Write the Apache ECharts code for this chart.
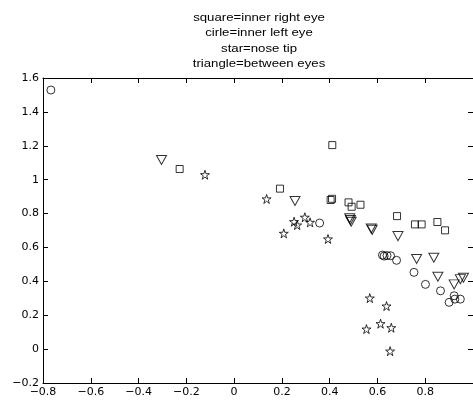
<!DOCTYPE html>
<html>
<head>
<meta charset="utf-8">
<script src="https://cdn.jsdelivr.net/npm/echarts@6/dist/echarts.min.js"></script>
<style>html,body{margin:0;padding:0;background:#fff}#c{width:473px;height:401px}</style>
</head>
<body>
<div id="c"></div>
<script>
// Data
const titleLines = ['square=inner right eye', 'cirle=inner left eye', 'star=nose tip', 'triangle=between eyes'];
const xTicks = [-0.8, -0.6, -0.4, -0.2, 0, 0.2, 0.4, 0.6, 0.8, 1.0];
const yTicks = [-0.2, 0, 0.2, 0.4, 0.6, 0.8, 1.0, 1.2, 1.4, 1.6];

const squareX = [-0.228, 0.411, 0.192, 0.404, 0.410, 0.479, 0.492, 0.529, 0.682, 0.757, 0.785, 0.851, 0.883];
const squareY = [1.063, 1.204, 0.947, 0.880, 0.887, 0.866, 0.840, 0.852, 0.785, 0.736, 0.736, 0.750, 0.701];

const circleX = [-0.767, 0.358, 0.621, 0.628, 0.640, 0.655, 0.680, 0.753, 0.801, 0.864, 0.900, 0.921, 0.924, 0.947];
const circleY = [1.529, 0.744, 0.555, 0.549, 0.552, 0.551, 0.524, 0.453, 0.382, 0.344, 0.276, 0.315, 0.295, 0.295];

const starX = [-0.122, 0.136, 0.208, 0.251, 0.264, 0.296, 0.318, 0.393, 0.568, 0.638, 0.554, 0.613, 0.658, 0.653];
const starY = [1.029, 0.886, 0.683, 0.752, 0.732, 0.778, 0.748, 0.650, 0.301, 0.254, 0.118, 0.150, 0.126, -0.012];

const triX = [-0.304, 0.255, 0.484, 0.487, 0.490, 0.574, 0.578, 0.686, 0.764, 0.836, 0.853, 0.921, 0.947, 0.960];
const triY = [1.116, 0.874, 0.772, 0.762, 0.752, 0.712, 0.704, 0.667, 0.532, 0.539, 0.427, 0.382, 0.413, 0.421];

function pairs(xs, ys) { return xs.map((x, i) => [x, ys[i]]); }
function fmt(v) {
  const s = String(+(+v).toFixed(1));
  return s.replace('-', '\u2212');
}

const STAR = 'path://M50 0 L61.17 34.63 L97.55 34.55 L68.07 55.87 L79.39 90.45 L50 69 L20.61 90.45 L31.93 55.87 L2.45 34.55 L38.83 34.63 Z';
const TRI_DOWN = 'path://M0 0 L10 0 L5 9 Z';

const hollow = { color: 'rgba(0,0,0,0)', borderColor: '#000', borderWidth: 1 };
const font = 'Liberation Sans, Arial, Helvetica, sans-serif';
const tickFont = 'DejaVu Sans, Liberation Sans, sans-serif';

const chart = echarts.init(document.getElementById('c'), null, { renderer: 'canvas' });

function axisBase() {
  return {
    type: 'value',
    axisLine: { show: true, onZero: false, lineStyle: { color: '#000', width: 1 } },
    axisTick: { show: true, inside: true, length: 5, lineStyle: { color: '#000' } },
    splitLine: { show: false },
  };
}

chart.setOption({
  animation: false,
  backgroundColor: '#fff',
  grid: { left: 43, top: 78, width: 432, height: 305, containLabel: false },
  graphic: [{
    type: 'text',
    x: 259,
    y: 10,
    scaleX: 1.2,
    style: {
      text: titleLines.join('\n'),
      font: '11px ' + font,
      fill: '#000',
      textAlign: 'center',
      lineHeight: 15.5,
    }
  }],
  xAxis: [
    Object.assign(axisBase(), {
      position: 'bottom',
      min: xTicks[0], max: xTicks[xTicks.length - 1], interval: 0.2,
      axisLabel: { show: true, formatter: fmt, color: '#000', fontSize: 11, fontFamily: tickFont, margin: 4, showMaxLabel: false }
    }),
    Object.assign(axisBase(), {
      position: 'top',
      min: xTicks[0], max: xTicks[xTicks.length - 1], interval: 0.2,
      axisLabel: { show: false }
    })
  ],
  yAxis: [
    Object.assign(axisBase(), {
      position: 'left',
      min: yTicks[0], max: yTicks[yTicks.length - 1], interval: 0.2,
      axisLabel: { show: true, formatter: fmt, color: '#000', fontSize: 11, fontFamily: tickFont, margin: 4 }
    }),
    Object.assign(axisBase(), {
      position: 'right',
      min: yTicks[0], max: yTicks[yTicks.length - 1], interval: 0.2,
      axisLabel: { show: false }
    })
  ],
  series: [
    { name: 'square', type: 'scatter', data: pairs(squareX, squareY), symbol: 'rect', symbolSize: 7, itemStyle: hollow },
    { name: 'circle', type: 'scatter', data: pairs(circleX, circleY), symbol: 'circle', symbolSize: 8, itemStyle: hollow },
    { name: 'star', type: 'scatter', data: pairs(starX, starY), symbol: STAR, symbolSize: [9, 9], itemStyle: hollow },
    { name: 'triangle', type: 'scatter', data: pairs(triX, triY), symbol: TRI_DOWN, symbolSize: [10, 9], itemStyle: hollow }
  ]
});
</script>
</body>
</html>
